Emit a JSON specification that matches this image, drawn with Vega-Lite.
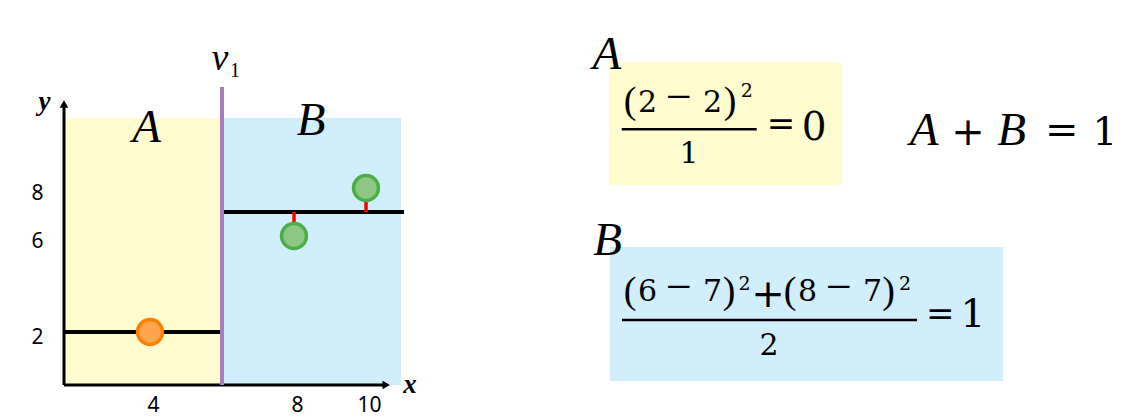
{
  "$schema": "https://vega.github.io/schema/vega-lite/v6.json",
  "width": 1126,
  "height": 419,
  "autosize": {"type": "fit", "contains": "padding"},
  "padding": 0,
  "background": "white",
  "config": {"view": {"stroke": null}},
  "datasets": {
    "regions": [
      {"region": "A", "x": 1.611, "x2": 6, "y": -0.208, "y2": 10.917},
      {"region": "B", "x": 6, "x2": 10.972, "y": -0.208, "y2": 10.917},
      {"region": "A", "x": 16.75, "x2": 23.222, "y": 8.125, "y2": 13.25},
      {"region": "B", "x": 16.778, "x2": 27.694, "y": -0.042, "y2": 5.542}
    ],
    "axislines": [
      {"x": 1.611, "x2": 10.5, "y": -0.208, "y2": -0.208},
      {"x": 1.611, "x2": 1.611, "y": -0.208, "y2": 11.45}
    ],
    "fitlines": [
      {"region": "A", "x": 1.611, "x2": 6, "y": 2},
      {"region": "B", "x": 6, "x2": 11.056, "y": 7}
    ],
    "split": [{"x": 6, "y": -0.208, "y2": 12.208}],
    "resid": [
      {"x": 8, "y": 7, "y2": 6},
      {"x": 10, "y": 8, "y2": 7}
    ],
    "pts": [
      {"region": "A", "x": 4, "y": 2},
      {"region": "B", "x": 8, "y": 6},
      {"region": "B", "x": 10, "y": 8}
    ],
    "arrows": [
      {"dir": "up", "x": 1.611, "y": 11.5},
      {"dir": "right", "x": 10.563, "y": -0.208}
    ],
    "bars": [
      {"x": 17.103, "x2": 20.853, "y": 10.446},
      {"x": 17.111, "x2": 25.306, "y": 2.5}
    ],
    "frac": [
      {"t": "2", "x": 17.819, "y": 11.179},
      {"t": "2", "x": 19.625, "y": 11.179},
      {"t": "1", "x": 18.972, "y": 9.029},
      {"t": "6", "x": 17.819, "y": 3.292},
      {"t": "7", "x": 19.625, "y": 3.292},
      {"t": "8", "x": 22.264, "y": 3.292},
      {"t": "7", "x": 24.069, "y": 3.292},
      {"t": "2", "x": 21.194, "y": 1.042}
    ],
    "minus": [
      {"t": "−", "x": 18.694, "y": 11.15},
      {"t": "−", "x": 18.694, "y": 3.26},
      {"t": "−", "x": 23.139, "y": 3.26}
    ],
    "paren": [
      {"t": "(", "x": 17.333, "y": 11.113},
      {"t": ")", "x": 20.111, "y": 11.113},
      {"t": "(", "x": 17.333, "y": 3.225},
      {"t": ")", "x": 20.083, "y": 3.225},
      {"t": "(", "x": 21.778, "y": 3.225},
      {"t": ")", "x": 24.514, "y": 3.225}
    ],
    "sup": [
      {"t": "2", "x": 20.575, "y": 11.804},
      {"t": "2", "x": 20.514, "y": 3.75},
      {"t": "2", "x": 24.972, "y": 3.75}
    ],
    "ops": [
      {"t": "=", "x": 21.53, "y": 10.225},
      {"t": "=", "x": 25.95, "y": 2.292}
    ],
    "ops2": [
      {"t": "+", "x": 21.167, "y": 3.025},
      {"t": "+", "x": 26.722, "y": 9.792},
      {"t": "=", "x": 29.325, "y": 9.875}
    ],
    "bigd": [
      {"t": "0", "x": 22.45, "y": 10.0},
      {"t": "1", "x": 26.86, "y": 2.208},
      {"t": "1", "x": 30.528, "y": 9.771}
    ],
    "bigital": [
      {"t": "A", "x": 3.903, "y": 9.917},
      {"t": "B", "x": 8.472, "y": 10.208},
      {"t": "A", "x": 16.694, "y": 12.958},
      {"t": "B", "x": 16.708, "y": 5.208},
      {"t": "A", "x": 25.5, "y": 9.792},
      {"t": "B", "x": 27.931, "y": 9.792}
    ],
    "axital": [
      {"t": "x", "x": 11.222, "y": -0.542},
      {"t": "y", "x": 1.069, "y": 11.233}
    ],
    "vlab": [{"t": "v", "x": 5.944, "y": 12.917}],
    "vsub": [{"t": "1", "x": 6.36, "y": 12.625}]
  },
  "encoding": {
    "x": {
      "field": "x", "type": "quantitative",
      "scale": {"domain": [-0.16667, 31.11111], "nice": false, "zero": false},
      "axis": {
        "values": [4, 8, 10], "domain": false, "ticks": false, "grid": false, "title": null,
        "offset": -34, "labelPadding": 26, "labelBaseline": "alphabetic",
        "labelFont": "Noto Sans", "labelFontSize": 21, "labelColor": "#000",
        "labelOffset": 3, "labelFlush": false, "labelOverlap": false
      }
    },
    "y": {
      "field": "y", "type": "quantitative",
      "scale": {"domain": [-1.625, 15.83333], "nice": false, "zero": false},
      "axis": {
        "values": [2, 6, 8], "domain": false, "ticks": false, "grid": false, "title": null,
        "offset": -64, "labelPadding": 21,
        "labelFont": "Noto Sans", "labelFontSize": 21, "labelColor": "#000",
        "labelOffset": 6, "labelFlush": false, "labelOverlap": false
      }
    }
  },
  "layer": [
    {
      "data": {"name": "regions"},
      "mark": {"type": "rect"},
      "encoding": {
        "x2": {"field": "x2"}, "y2": {"field": "y2"},
        "color": {"field": "region", "type": "nominal", "scale": {"domain": ["A", "B"], "range": ["#FFFDD0", "#D0EEFB"]}, "legend": null}
      }
    },
    {
      "data": {"name": "axislines"},
      "mark": {"type": "rule", "color": "#000", "strokeWidth": 3},
      "encoding": {"x2": {"field": "x2"}, "y2": {"field": "y2"}}
    },
    {
      "data": {"name": "arrows"},
      "mark": {"type": "point", "filled": true, "color": "#000", "size": 75, "opacity": 1},
      "encoding": {
        "shape": {"field": "dir", "type": "nominal", "scale": {"domain": ["up", "right"], "range": ["triangle-up", "triangle-right"]}, "legend": null}
      }
    },
    {
      "data": {"name": "fitlines"},
      "mark": {"type": "rule", "color": "#000", "strokeWidth": 4},
      "encoding": {"x2": {"field": "x2"}}
    },
    {
      "data": {"name": "split"},
      "mark": {"type": "rule", "color": "#A87CBE", "strokeWidth": 4},
      "encoding": {"y2": {"field": "y2"}}
    },
    {
      "data": {"name": "resid"},
      "mark": {"type": "rule", "color": "#FF0000", "strokeWidth": 3.5},
      "encoding": {"y2": {"field": "y2"}}
    },
    {
      "data": {"name": "pts"},
      "mark": {"type": "point", "shape": "circle", "filled": true, "size": 620, "strokeWidth": 3.5, "opacity": 1, "fillOpacity": 1, "strokeOpacity": 1},
      "encoding": {
        "fill": {"field": "region", "type": "nominal", "scale": {"domain": ["A", "B"], "range": ["#FFA64D", "#8CC883"]}, "legend": null},
        "stroke": {"field": "region", "type": "nominal", "scale": {"domain": ["A", "B"], "range": ["#FF7F00", "#4DAE48"]}, "legend": null}
      }
    },
    {
      "data": {"name": "bars"},
      "mark": {"type": "rule", "color": "#000", "strokeWidth": 2.5},
      "encoding": {"x2": {"field": "x2"}}
    },
    {
      "data": {"name": "frac"},
      "mark": {"type": "text", "font": "DejaVu Serif", "fontSize": 30, "align": "center", "baseline": "alphabetic", "color": "#000"},
      "encoding": {"text": {"field": "t"}}
    },
    {
      "data": {"name": "minus"},
      "mark": {"type": "text", "font": "Liberation Serif", "fontSize": 46, "align": "center", "baseline": "alphabetic", "color": "#000"},
      "encoding": {"text": {"field": "t"}}
    },
    {
      "data": {"name": "paren"},
      "mark": {"type": "text", "font": "Liberation Serif", "fontSize": 38, "align": "center", "baseline": "alphabetic", "color": "#000"},
      "encoding": {"text": {"field": "t"}}
    },
    {
      "data": {"name": "sup"},
      "mark": {"type": "text", "font": "DejaVu Serif", "fontSize": 19, "align": "center", "baseline": "alphabetic", "color": "#000"},
      "encoding": {"text": {"field": "t"}}
    },
    {
      "data": {"name": "ops"},
      "mark": {"type": "text", "font": "DejaVu Serif", "fontSize": 34, "align": "center", "baseline": "alphabetic", "color": "#000"},
      "encoding": {"text": {"field": "t"}}
    },
    {
      "data": {"name": "ops2"},
      "mark": {"type": "text", "font": "DejaVu Serif", "fontSize": 40, "align": "center", "baseline": "alphabetic", "color": "#000"},
      "encoding": {"text": {"field": "t"}}
    },
    {
      "data": {"name": "bigd"},
      "mark": {"type": "text", "font": "DejaVu Serif", "fontSize": 39, "align": "center", "baseline": "alphabetic", "color": "#000"},
      "encoding": {"text": {"field": "t"}}
    },
    {
      "data": {"name": "bigital"},
      "mark": {"type": "text", "font": "Liberation Serif", "fontSize": 47, "fontStyle": "italic", "align": "center", "baseline": "alphabetic", "color": "#000"},
      "encoding": {"text": {"field": "t"}}
    },
    {
      "data": {"name": "axital"},
      "mark": {"type": "text", "font": "Liberation Serif", "fontSize": 27, "fontStyle": "italic", "fontWeight": "bold", "align": "center", "baseline": "alphabetic", "color": "#000"},
      "encoding": {"text": {"field": "t"}}
    },
    {
      "data": {"name": "vlab"},
      "mark": {"type": "text", "font": "Liberation Serif", "fontSize": 38, "fontStyle": "italic", "align": "center", "baseline": "alphabetic", "color": "#000"},
      "encoding": {"text": {"field": "t"}}
    },
    {
      "data": {"name": "vsub"},
      "mark": {"type": "text", "font": "Liberation Serif", "fontSize": 20, "align": "center", "baseline": "alphabetic", "color": "#000"},
      "encoding": {"text": {"field": "t"}}
    }
  ]
}
